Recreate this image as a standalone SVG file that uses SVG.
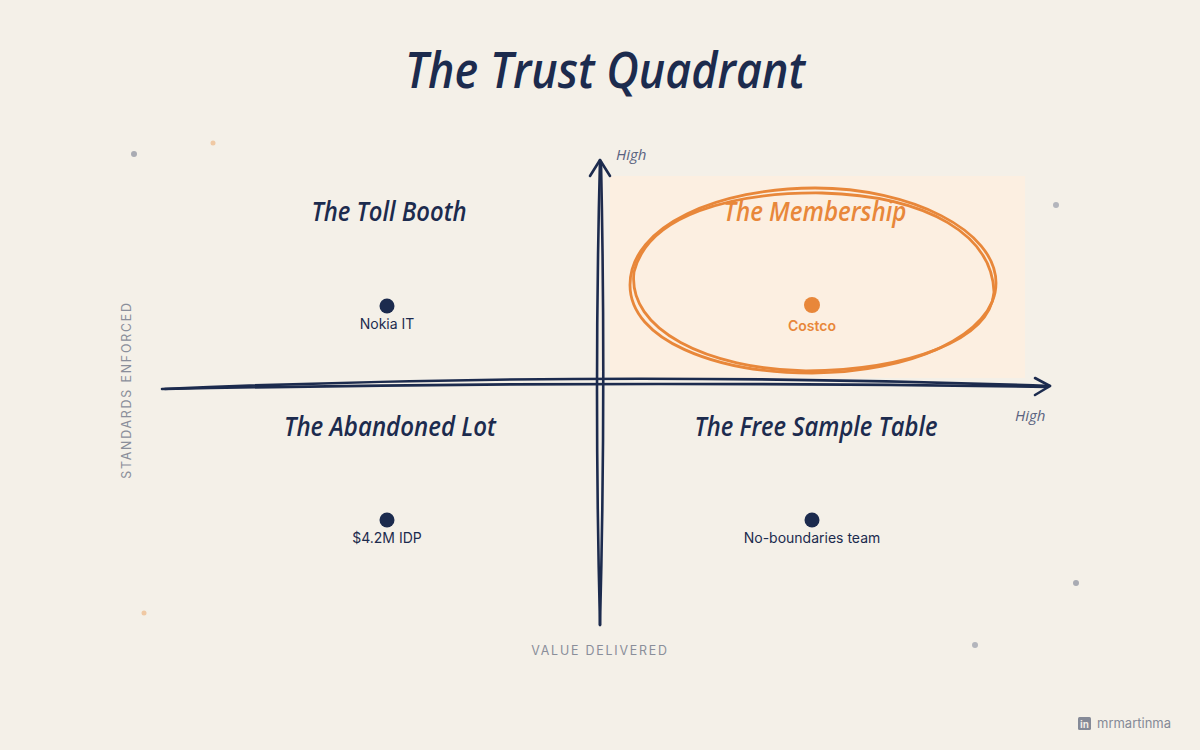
<svg xmlns="http://www.w3.org/2000/svg" width="1200" height="750" viewBox="0 0 1200 750">
<style>
.hand{font-family:"Open Sans","DejaVu Sans",sans-serif;font-style:italic;font-weight:600;}
.navy{fill:#1c2b4e;}
.orange{fill:#e8873a;}
.lbl{font-family:Inter,"Liberation Sans",sans-serif;font-size:14px;fill:#1c2b4e;text-anchor:middle;}
.axis{font-family:Inter,"Liberation Sans",sans-serif;font-size:12.4px;fill:#8a8e9a;letter-spacing:1.8px;text-anchor:middle;}
.ax{fill:none;stroke:#1c2b4e;stroke-width:2.6;stroke-linecap:round;stroke-linejoin:round;}
.ring{fill:none;stroke:#e8873a;stroke-width:2.8;stroke-linecap:round;}
.high{font-family:"Open Sans","DejaVu Sans",sans-serif;font-style:italic;font-size:15px;fill:#5a6380;}
</style>
<rect width="1200" height="750" fill="#f4f0e8"/>
<g id="speckles">
<circle cx="134" cy="154" r="3" fill="#a9abb3"/>
<circle cx="213" cy="143" r="2.5" fill="#f0c9a4"/>
<circle cx="1056" cy="205" r="3" fill="#b3b5bc"/>
<circle cx="1076" cy="583" r="3" fill="#a9abb3"/>
<circle cx="975" cy="645" r="3" fill="#b3b5bc"/>
<circle cx="144" cy="613" r="2.5" fill="#f0c9a4"/>
</g>
<text id="title" x="605" y="88" class="hand navy" font-size="50" text-anchor="middle" textLength="400" lengthAdjust="spacingAndGlyphs">The Trust Quadrant</text>
<rect id="highlight" x="610" y="176" width="415" height="202" fill="#fcefe1"/>
<g id="connectors">
<path class="ax" d="M600,625 Q594,390 600,160"/>
<path class="ax" d="M600,625 Q606,392 601,162" stroke-width="1.8"/>
<path class="ax" d="M590,176 L600,160 L610,176"/>
<path class="ax" d="M162,389 Q600,370 1050,386"/>
<path class="ax" d="M165,389 Q600,380 1048,387" stroke-width="1.8"/>
<path class="ax" d="M1035,378 L1050,386 L1035,395"/>
</g>
<text x="616" y="160" class="high">High</text>
<text x="1015" y="421" class="high">High</text>
<g id="ring">
<path class="ring" d="M630,285 C630,225 720,188 815,188 C910,188 996,230 996,283 C996,335 910,373 812,373 C715,373 630,340 630,285 Z"/>
<path class="ring" d="M634,272 C648,215 732,192 822,193 C930,196 992,236 994,292 C990,342 905,370 806,371 C708,369 627,330 634,272" stroke-width="2"/>
</g>
<g id="toll-booth"><text x="389" y="221" class="hand navy" font-size="27" text-anchor="middle" textLength="155" lengthAdjust="spacingAndGlyphs">The Toll Booth</text></g>
<g id="membership"><text x="815" y="221" class="hand orange" font-size="27" text-anchor="middle" textLength="183" lengthAdjust="spacingAndGlyphs">The Membership</text></g>
<g id="abandoned-lot"><text x="390" y="436" class="hand navy" font-size="27" text-anchor="middle" textLength="212" lengthAdjust="spacingAndGlyphs">The Abandoned Lot</text></g>
<g id="free-sample"><text x="816" y="436" class="hand navy" font-size="27" text-anchor="middle" textLength="243" lengthAdjust="spacingAndGlyphs">The Free Sample Table</text></g>
<g id="nokia"><circle cx="387" cy="306" r="7.5" class="navy"/><text x="387" y="329" class="lbl">Nokia IT</text></g>
<g id="costco"><circle cx="812" cy="305" r="8" class="orange"/><text x="812" y="331" class="lbl" style="fill:#e8873a;font-weight:600">Costco</text></g>
<g id="idp"><circle cx="387" cy="520" r="7.5" class="navy"/><text x="387" y="543" class="lbl">$4.2M IDP</text></g>
<g id="no-boundaries"><circle cx="812" cy="520" r="7.5" class="navy"/><text x="812" y="543" class="lbl">No-boundaries team</text></g>
<text x="127" y="390" class="axis" transform="rotate(-90 127 390)" dy="4">STANDARDS ENFORCED</text>
<text x="600" y="655" class="axis">VALUE DELIVERED</text>
<g id="credit">
<rect x="1078" y="717" width="13" height="13" rx="1.5" fill="#858a97"/>
<text x="1084.5" y="728" font-family="Liberation Sans,sans-serif" font-weight="bold" font-size="10" fill="#f4f0e8" text-anchor="middle">in</text>
<text x="1097" y="728" font-family="Inter,'Liberation Sans',sans-serif" font-size="13" fill="#858a97">mrmartinma</text>
</g>
</svg>
